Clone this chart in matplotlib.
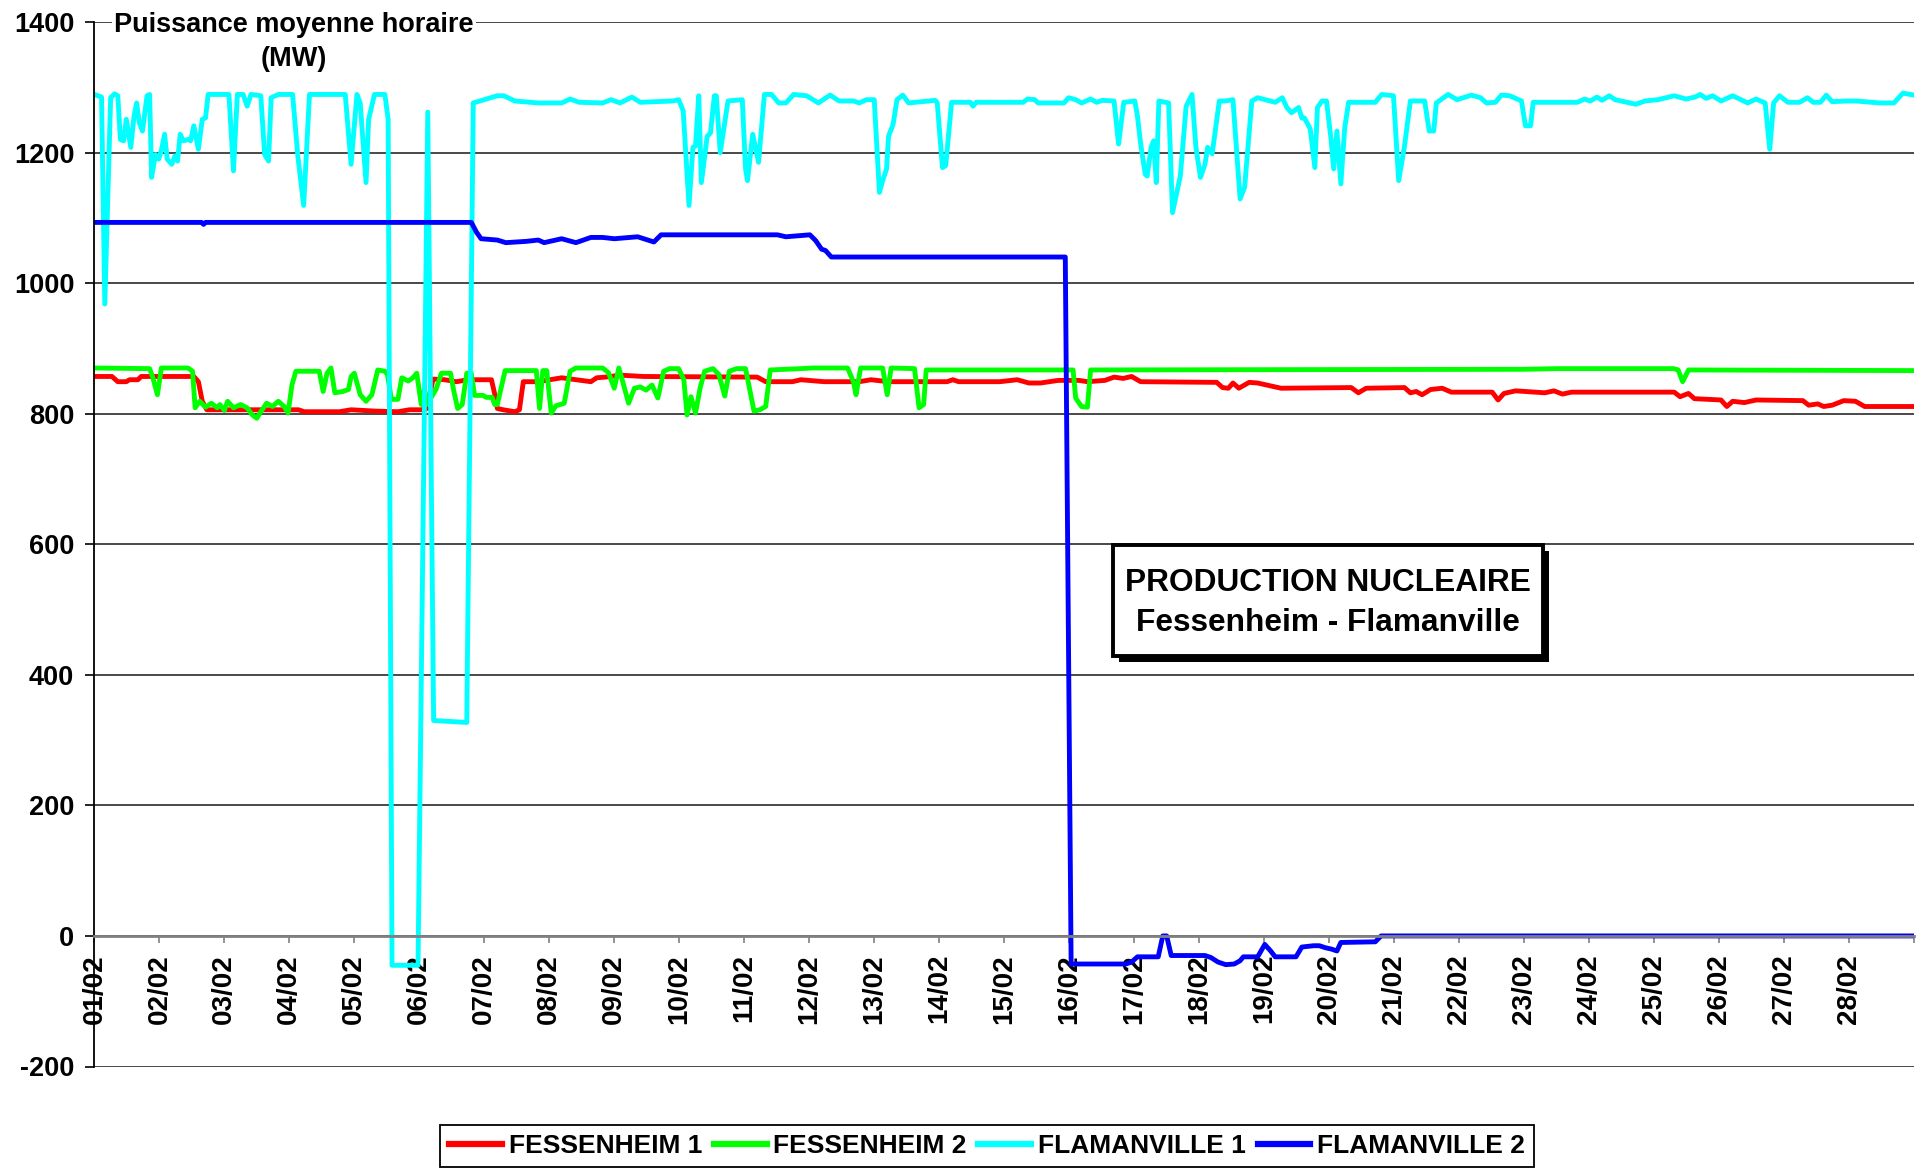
import matplotlib
matplotlib.use('Agg')
import matplotlib.pyplot as plt
from matplotlib.patches import Rectangle

plt.rcParams['font.family'] = ['Liberation Sans', 'DejaVu Sans']
plt.rcParams['font.weight'] = 'bold'
plt.rcParams['axes.unicode_minus'] = False

# données : (jour depuis le 01/02 00h, puissance MW)
fessenheim1 = [
    (0, 857), (0.27, 857), (0.36, 849), (0.49, 849), (0.54, 852), (0.67, 852), (0.72, 857),
    (1.53, 857), (1.60, 849), (1.66, 819), (1.73, 806), (2.7, 806), (3.14, 806), (3.23, 803),
    (3.77, 803), (3.95, 806), (4.31, 804), (4.67, 803), (4.85, 806), (5.03, 806), (5.12, 808),
    (5.21, 853), (5.39, 852), (5.57, 849), (5.75, 852), (6.11, 852), (6.16, 830), (6.20, 808),
    (6.29, 806), (6.47, 803), (6.54, 806), (6.60, 849), (6.83, 849), (7.01, 852), (7.19, 855),
    (7.64, 849), (7.73, 855), (7.86, 856), (8.09, 859), (8.45, 857), (10.2, 856), (10.33, 849),
    (10.74, 849), (10.87, 852), (11.23, 849), (11.77, 849), (11.95, 852), (12.22, 849),
    (12.58, 849), (13.12, 849), (13.21, 852), (13.30, 849), (13.93, 849), (14.20, 852),
    (14.38, 847), (14.56, 847), (14.83, 851), (15.15, 851), (15.28, 849), (15.55, 851),
    (15.69, 856), (15.83, 854), (15.96, 857), (16.10, 849), (17.27, 848), (17.36, 840),
    (17.45, 839), (17.52, 847), (17.61, 839), (17.77, 848), (17.90, 847), (18.08, 843),
    (18.26, 839), (19.34, 840), (19.45, 832), (19.57, 839), (20.16, 840), (20.25, 832),
    (20.34, 834), (20.43, 829), (20.56, 837), (20.74, 839), (20.88, 833), (21.51, 833),
    (21.60, 821), (21.69, 831), (21.87, 835), (22.32, 832), (22.46, 835), (22.59, 830),
    (22.73, 833), (24.31, 833), (24.40, 826), (24.53, 831), (24.62, 823), (25.03, 821),
    (25.12, 811), (25.21, 819), (25.39, 817), (25.57, 821), (26.29, 820), (26.38, 813),
    (26.52, 815), (26.61, 811), (26.74, 813), (26.92, 820), (27.10, 819), (27.24, 811),
    (28.0, 811),
]

fessenheim2 = [
    (0, 870), (0.85, 869), (0.90, 855), (0.97, 829), (1.03, 870), (1.44, 870), (1.51, 865),
    (1.55, 809), (1.62, 819), (1.71, 810), (1.80, 816), (1.89, 809), (1.93, 814), (2.0, 805),
    (2.05, 819), (2.14, 809), (2.25, 814), (2.35, 809), (2.43, 798), (2.50, 793), (2.56, 803),
    (2.65, 816), (2.74, 811), (2.83, 819), (2.92, 811), (2.98, 801), (3.04, 844), (3.10, 865),
    (3.46, 865), (3.52, 834), (3.58, 862), (3.64, 870), (3.70, 832), (3.82, 834), (3.91, 837),
    (3.95, 857), (4.0, 862), (4.09, 829), (4.18, 819), (4.27, 829), (4.36, 867), (4.47, 865),
    (4.51, 860), (4.57, 822), (4.67, 822), (4.73, 855), (4.83, 850), (4.90, 855), (4.96, 862),
    (5.03, 814), (5.08, 838), (5.12, 814), (5.26, 838), (5.34, 862), (5.48, 862), (5.53, 835),
    (5.59, 808), (5.66, 814), (5.73, 862), (5.80, 862), (5.85, 828), (5.98, 828), (6.03, 825),
    (6.12, 825), (6.16, 814), (6.20, 814), (6.32, 866), (6.80, 866), (6.85, 808), (6.90, 866),
    (6.96, 866), (7.03, 801), (7.10, 812), (7.23, 816), (7.32, 865), (7.41, 870), (7.82, 870),
    (7.91, 863), (8.0, 839), (8.07, 870), (8.13, 849), (8.22, 816), (8.31, 839), (8.40, 841),
    (8.49, 836), (8.58, 844), (8.67, 824), (8.76, 865), (8.85, 869), (8.99, 869), (9.07, 852),
    (9.12, 798), (9.18, 826), (9.25, 801), (9.32, 839), (9.39, 865), (9.52, 869), (9.61, 860),
    (9.70, 827), (9.77, 865), (9.88, 869), (10.02, 869), (10.06, 849), (10.15, 804),
    (10.24, 806), (10.33, 811), (10.40, 867), (10.87, 869), (11.05, 870), (11.59, 870),
    (11.68, 849), (11.72, 829), (11.79, 870), (12.13, 870), (12.20, 829), (12.26, 870),
    (12.62, 869), (12.69, 809), (12.76, 814), (12.80, 867), (15.06, 867), (15.10, 824),
    (15.19, 811), (15.28, 810), (15.33, 867), (22.0, 868), (22.5, 869), (24.3, 869),
    (24.37, 867), (24.44, 849), (24.53, 867), (28.0, 866),
]

flamanville1 = [
    (0, 1289), (0.11, 1285), (0.16, 968), (0.25, 1284), (0.31, 1290), (0.36, 1287), (0.40, 1220),
    (0.45, 1218), (0.49, 1251), (0.56, 1208), (0.61, 1256), (0.65, 1276), (0.69, 1246),
    (0.74, 1233), (0.81, 1287), (0.85, 1289), (0.88, 1162), (0.94, 1197), (0.99, 1190),
    (1.03, 1203), (1.08, 1228), (1.12, 1190), (1.19, 1182), (1.24, 1195), (1.28, 1187),
    (1.32, 1228), (1.37, 1218), (1.44, 1220), (1.48, 1218), (1.53, 1241), (1.60, 1205),
    (1.66, 1251), (1.71, 1253), (1.75, 1289), (2.07, 1289), (2.14, 1172), (2.20, 1289),
    (2.29, 1289), (2.35, 1271), (2.41, 1289), (2.56, 1287), (2.62, 1197), (2.68, 1187),
    (2.72, 1284), (2.83, 1289), (3.05, 1289), (3.13, 1195), (3.22, 1119), (3.31, 1289),
    (3.86, 1289), (3.95, 1182), (4.04, 1289), (4.09, 1276), (4.18, 1154), (4.22, 1251),
    (4.31, 1289), (4.47, 1289), (4.52, 1251), (4.58, -45), (4.98, -45), (5.13, 1262),
    (5.22, 330), (5.73, 327), (5.83, 1276), (6.2, 1287), (6.3, 1287), (6.47, 1279),
    (6.83, 1276), (7.19, 1276), (7.32, 1282), (7.46, 1277), (7.82, 1276), (7.95, 1281),
    (8.09, 1276), (8.27, 1285), (8.40, 1277), (8.9, 1279), (8.99, 1281), (9.06, 1264),
    (9.15, 1119), (9.21, 1208), (9.25, 1210), (9.30, 1287), (9.34, 1154), (9.43, 1225),
    (9.48, 1230), (9.54, 1287), (9.57, 1287), (9.63, 1200), (9.75, 1279), (9.97, 1281),
    (10.02, 1175), (10.05, 1157), (10.13, 1228), (10.22, 1185), (10.31, 1289), (10.42, 1289),
    (10.53, 1276), (10.64, 1276), (10.76, 1289), (10.96, 1287), (11.14, 1276), (11.32, 1288),
    (11.46, 1279), (11.68, 1279), (11.77, 1276), (11.88, 1281), (12.0, 1281), (12.08, 1139),
    (12.13, 1157), (12.19, 1175), (12.22, 1225), (12.29, 1243), (12.35, 1281), (12.44, 1288),
    (12.53, 1276), (12.94, 1280), (12.97, 1276), (13.05, 1177), (13.10, 1180), (13.19, 1277),
    (13.48, 1277), (13.52, 1271), (13.57, 1277), (14.29, 1277), (14.36, 1282), (14.47, 1281),
    (14.52, 1276), (14.92, 1276), (14.99, 1284), (15.10, 1281), (15.19, 1276), (15.33, 1282),
    (15.42, 1277), (15.51, 1280), (15.69, 1279), (15.76, 1213), (15.84, 1277), (16.01, 1279),
    (16.05, 1256), (16.10, 1213), (16.17, 1167), (16.20, 1164), (16.26, 1208), (16.30, 1218),
    (16.34, 1154), (16.38, 1279), (16.53, 1276), (16.59, 1108), (16.71, 1164), (16.80, 1271),
    (16.89, 1289), (16.95, 1208), (17.02, 1162), (17.09, 1182), (17.13, 1208), (17.20, 1198),
    (17.31, 1279), (17.40, 1279), (17.52, 1281), (17.63, 1129), (17.70, 1147), (17.81, 1279),
    (17.90, 1284), (18.17, 1277), (18.28, 1284), (18.35, 1269), (18.42, 1261), (18.53, 1269),
    (18.58, 1253), (18.62, 1253), (18.71, 1236), (18.78, 1177), (18.82, 1269), (18.89, 1279),
    (18.96, 1279), (19.03, 1220), (19.07, 1175), (19.12, 1233), (19.18, 1152), (19.24, 1238),
    (19.30, 1277), (19.71, 1277), (19.81, 1289), (19.99, 1287), (20.07, 1157), (20.16, 1210),
    (20.25, 1279), (20.47, 1279), (20.54, 1233), (20.61, 1233), (20.65, 1276), (20.83, 1289),
    (20.97, 1281), (21.19, 1288), (21.33, 1284), (21.42, 1276), (21.56, 1277), (21.65, 1288),
    (21.78, 1287), (21.96, 1279), (22.02, 1241), (22.10, 1241), (22.14, 1277), (22.82, 1277),
    (22.93, 1282), (23.02, 1279), (23.12, 1285), (23.20, 1280), (23.31, 1287), (23.40, 1281),
    (23.49, 1279), (23.72, 1274), (23.86, 1279), (24.06, 1281), (24.31, 1287), (24.49, 1282),
    (24.63, 1285), (24.71, 1289), (24.80, 1283), (24.90, 1287), (25.03, 1279), (25.21, 1287),
    (25.44, 1276), (25.57, 1282), (25.71, 1276), (25.78, 1205), (25.84, 1276), (25.93, 1287),
    (26.06, 1277), (26.24, 1277), (26.36, 1284), (26.45, 1277), (26.56, 1277), (26.65, 1288),
    (26.74, 1278), (26.97, 1279), (27.11, 1279), (27.47, 1276), (27.69, 1276), (27.83, 1291),
    (28.0, 1288),
]

flamanville2 = [
    (0, 1093), (1.65, 1093), (1.68, 1090), (1.71, 1093), (5.80, 1093), (5.88, 1078),
    (5.95, 1068), (6.20, 1066), (6.33, 1062), (6.65, 1064), (6.83, 1066), (6.92, 1062),
    (7.19, 1068), (7.41, 1062), (7.64, 1070), (7.82, 1070), (8.0, 1068), (8.36, 1071),
    (8.61, 1063), (8.72, 1074), (10.51, 1074), (10.64, 1071), (11.01, 1074), (11.10, 1065),
    (11.19, 1052), (11.25, 1050), (11.34, 1040), (14.94, 1040), (15.03, -43), (15.87, -43),
    (15.96, -40), (16.05, -32), (16.37, -32), (16.44, 0), (16.50, 0), (16.57, -30),
    (17.09, -30), (17.18, -33), (17.29, -40), (17.41, -44), (17.54, -43), (17.63, -38),
    (17.68, -32), (17.90, -32), (18.01, -13), (18.10, -23), (18.17, -32), (18.49, -32),
    (18.58, -17), (18.76, -15), (18.85, -15), (18.94, -18), (19.03, -20), (19.12, -23),
    (19.18, -10), (19.71, -9), (19.80, 0), (28.0, 0),
]

series = [
    ('FESSENHEIM 1', fessenheim1, '#FF0000'),
    ('FESSENHEIM 2', fessenheim2, '#00FF00'),
    ('FLAMANVILLE 1', flamanville1, '#00FFFF'),
    ('FLAMANVILLE 2', flamanville2, '#0000FF'),
]
day_labels = ['{:02d}/02'.format(d) for d in range(1, 29)]

W, H = 1922, 1171
fig = plt.figure(figsize=(W / 100, H / 100), dpi=100)
ax = fig.add_axes([94.4 / W, 1 - 1066.5 / H, (1914 - 94.4) / W, (1066.5 - 22) / H])

for name, pts, col in series:
    t = [p[0] for p in pts]
    v = [p[1] for p in pts]
    ax.plot(t, v, color=col, lw=3.5, label=name, solid_joinstyle='round')

ax.set_xlim(0, 28)
ax.set_ylim(-200, 1400)
ax.set_yticks(range(-200, 1401, 200))
ax.set_xticks(range(0, 29))
ax.set_xticklabels(day_labels + [''])

ax.grid(axis='y', color='#2a2a2a', lw=1.2)
ax.set_axisbelow(True)
for s in ['top', 'right']:
    ax.spines[s].set_visible(False)
ax.spines['left'].set_linewidth(1.3)
ax.spines['bottom'].set_position(('data', 0))
ax.spines['bottom'].set_color('#808080')
ax.spines['bottom'].set_linewidth(2)

ax.tick_params(axis='y', direction='out', length=6.5, width=1.2, pad=8, labelsize=19.5)
ax.tick_params(axis='x', direction='out', length=5, width=1.2, color='#808080', pad=8,
               labelsize=20, labelrotation=90)

# titre de l'axe
fig.text(294 / W, 1 - 31.5 / H, 'Puissance moyenne horaire', ha='center', va='baseline',
         fontsize=19.5, bbox=dict(facecolor='white', edgecolor='none', pad=2))
fig.text(294 / W, 1 - 66.5 / H, '(MW)', ha='center', va='baseline', fontsize=19.5)

# cadre avec ombre
fig.patches.append(Rectangle((1119 / W, 1 - 662 / H), 430 / W, 111 / H, transform=fig.transFigure,
                             facecolor='black', edgecolor='none', zorder=5))
fig.patches.append(Rectangle((1113 / W, 1 - 656 / H), 430 / W, 111 / H, transform=fig.transFigure,
                             facecolor='white', edgecolor='black', lw=2.8, zorder=6))
fig.text(1328 / W, 1 - 591 / H, 'PRODUCTION NUCLEAIRE', ha='center', va='baseline',
         fontsize=22.8, zorder=7)
fig.text(1328 / W, 1 - 631 / H, 'Fessenheim - Flamanville', ha='center', va='baseline',
         fontsize=22.8, zorder=7)

leg = fig.legend(loc='center', bbox_to_anchor=(987 / W, 1 - 1146 / H), ncol=4, fontsize=19,
                 frameon=True, fancybox=False, edgecolor='black', framealpha=1,
                 handlelength=2.0, handletextpad=0.25, columnspacing=0.45, borderpad=0.35)
leg.get_frame().set_linewidth(1.3)
for line in leg.get_lines():
    line.set_linewidth(4.5)

fig.savefig('out.png', dpi=100)
